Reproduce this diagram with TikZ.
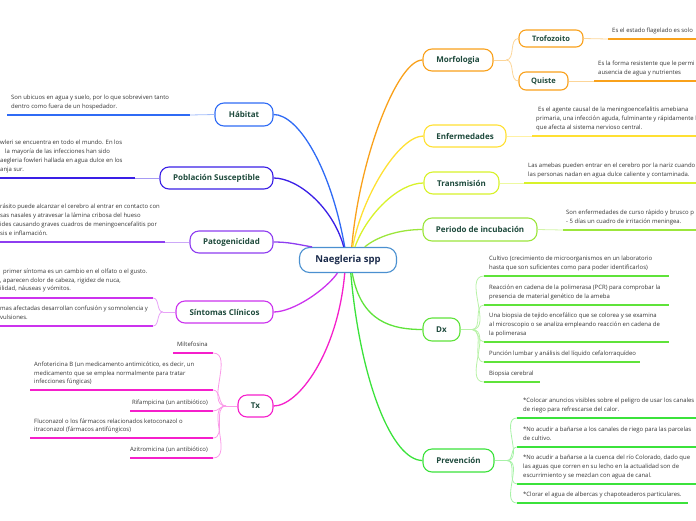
\documentclass[tikz,border=0pt]{standalone}
\usepackage{fontspec}
\setmainfont{Open Sans}

\definecolor{roottext}{HTML}{1B2B4B}
\definecolor{topictext}{HTML}{1E4A3C}
\definecolor{leaftext}{HTML}{333333}
\definecolor{croot}{HTML}{4A90D0}
\definecolor{chab}{HTML}{2F6BF5}
\definecolor{cpob}{HTML}{3A1FE6}
\definecolor{cpat}{HTML}{8E3DF0}
\definecolor{csin}{HTML}{CC33EE}
\definecolor{ctx}{HTML}{F51FCB}
\definecolor{cmor}{HTML}{F9A11B}
\definecolor{cenf}{HTML}{FFE033}
\definecolor{ctra}{HTML}{D8F22A}
\definecolor{cper}{HTML}{9CE63C}
\definecolor{cdx}{HTML}{5FE33A}
\definecolor{cpre}{HTML}{3BE23B}

\tikzset{
    rootbox/.style={draw=croot, fill=white, rounded corners=10pt, line width=1.1pt,
        minimum width=97pt, minimum height=25pt, inner sep=0pt, text=roottext,
        font=\fontsize{9.5}{11}\selectfont\bfseries},
    topic/.style={draw=#1, fill=white, rounded corners=9pt, line width=1.1pt,
        inner sep=0pt, text=topictext, font=\fontsize{8}{9}\selectfont\bfseries},
    subtopic/.style={topic=#1, rounded corners=7pt, font=\fontsize{7.5}{9}\selectfont\bfseries},
    leaf/.style={anchor=south west, inner sep=0pt, text depth=0pt, align=left,
        text=leaftext, font=\fontsize{5.95}{8.8}\selectfont},
    leafr/.style={leaf, anchor=south east, align=right},
    branch/.style={line width=1.3pt, draw=#1},
    bar/.style={line width=1.8pt, draw=#1},
    twig/.style={line width=0.8pt, draw=#1!45},
}

\begin{document}
\begin{tikzpicture}[x=1pt, y=1pt]
    \useasboundingbox (0,0) rectangle (696,-520);
    \clip (0,0) rectangle (696,-520);
    % Draw the central topic
    \node[rootbox] (root) at (348,-260) {Naegleria spp};
    % Draw the topics on the left
    \node[topic=chab, minimum width=58pt, minimum height=23pt] (hab) at (244,-114.5) {Hábitat};
    \node[topic=cpob, minimum width=113pt, minimum height=22pt] (pob) at (216.5,-178) {Población Susceptible};
    \node[topic=cpat, minimum width=83pt, minimum height=22pt] (pat) at (231.5,-242) {Patogenicidad};
    \node[topic=csin, minimum width=97pt, minimum height=22pt] (sin) at (224.5,-312) {Síntomas Clínicos};
    \node[topic=ctx, minimum width=35pt, minimum height=22pt] (tx) at (255.5,-406) {Tx};
    % Draw the topics on the right
    \node[topic=cmor, minimum width=70pt, minimum height=22pt] (mor) at (458,-60) {Morfologia};
    \node[subtopic=cmor, minimum width=64pt, minimum height=17pt] (tro) at (551,-38.5) {Trofozoito};
    \node[subtopic=cmor, minimum width=49pt, minimum height=18pt] (qui) at (543.5,-81) {Quiste};
    \node[topic=cenf, minimum width=82pt, minimum height=22pt] (enf) at (465,-136) {Enfermedades};
    \node[topic=ctra, minimum width=75pt, minimum height=22pt] (tra) at (461.5,-183) {Transmisión};
    \node[topic=cper, minimum width=114pt, minimum height=23pt] (per) at (480,-229.5) {Periodo de incubación};
    \node[topic=cdx, minimum width=37pt, minimum height=23pt] (dx) at (441.5,-329.5) {Dx};
    \node[topic=cpre, minimum width=71pt, minimum height=23pt] (pre) at (458.5,-460.5) {Prevención};
    % Draw the branches from the centre
    \draw[branch=cmor] (mor.west) to[out=180, in=85, out distance=25pt, in distance=90pt] (root.74);
    \draw[branch=cenf] (enf.west) to[out=180, in=80, out distance=25pt, in distance=50pt] (root.70);
    \draw[branch=ctra] (tra.west) to[out=180, in=70, out distance=25pt, in distance=35pt] (root.62);
    \draw[branch=cper] (per.west) to[out=180, in=40, out distance=25pt, in distance=15pt] (root.38);
    \draw[branch=cdx] (dx.west) to[out=180, in=280, out distance=30pt, in distance=50pt] (root.288);
    \draw[branch=cpre] (pre.west) to[out=180, in=275, out distance=30pt, in distance=110pt] (root.282);
    \draw[branch=chab] (hab.east) to[out=0, in=100, out distance=25pt, in distance=80pt] (root.104);
    \draw[branch=cpob] (pob.east) to[out=0, in=105, out distance=25pt, in distance=40pt] (root.108);
    \draw[branch=cpat] (pat.east) to[out=0, in=170, out distance=15pt, in distance=15pt] (root.160);
    \draw[branch=csin] (sin.east) to[out=0, in=235, out distance=20pt, in distance=20pt] (root.231);
    \draw[branch=ctx] (tx.east) to[out=0, in=265, out distance=25pt, in distance=80pt] (root.256);
    % Draw the Habitat leaf
    \coordinate (habA) at (7,-115);
    \coordinate (habB) at (190,-115);
    \draw[bar=chab] (habA) -- (habB);
    \draw[twig=chab] (habB) -- (hab.west);
    \node[leaf] (habT) at (11,-108.5) {Son ubicuos en agua y suelo, por lo que sobreviven tanto\\dentro como fuera de un hospedador.};
    % Draw the Poblacion leaf
    \coordinate (pobA) at (0,-178);
    \coordinate (pobB) at (135,-178);
    \draw[bar=cpob] (pobA) -- (pobB);
    \draw[twig=cpob] (pobB) -- (pob.west);
    \node[leaf] (pobT) at (0,-171.5) {wleri se encuentra en todo el mundo. En los\\\hspace{5pt}la mayoría de las infecciones han sido\\aegleria fowleri hallada en agua dulce en los\\anja sur.};
    % Draw the Patogenicidad leaf
    \coordinate (patA) at (0,-242);
    \coordinate (patB) at (165,-242);
    \draw[bar=cpat] (patA) -- (patB);
    \draw[twig=cpat] (patB) -- (pat.west);
    \node[leaf] (patT) at (0,-235.5) {rásito puede alcanzar el cerebro al entrar en contacto con\\sas nasales y atravesar la lámina cribosa del hueso\\ides causando graves cuadros de meningoencefalitis por\\sis e inflamación.};
    % Draw the Sintomas leaves
    \coordinate (sinJ) at (163,-312);
    \coordinate (sinA) at (0,-298);
    \coordinate (sinB) at (153,-298);
    \coordinate (sinC) at (0,-326);
    \coordinate (sinD) at (153,-326);
    \draw[twig=csin] (sin.west) -- (sinJ);
    \draw[bar=csin] (sinA) -- (sinB);
    \draw[bar=csin] (sinC) -- (sinD);
    \draw[twig=csin] (sinJ) to[out=180, in=0] (sinB);
    \draw[twig=csin] (sinJ) to[out=180, in=0] (sinD);
    \node[leaf] (sinT1) at (0,-291) {\hspace{3pt}primer síntoma es un cambio en el olfato o el gusto.\\, aparecen dolor de cabeza, rigidez de nuca,\\ilidad, náuseas y vómitos.};
    \node[leaf] (sinT2) at (0,-319.5) {mas afectadas desarrollan confusión y somnolencia y\\vulsiones.};
    % Draw the Tx leaves
    \coordinate (txJ) at (226,-406);
    \draw[twig=ctx] (tx.west) -- (txJ);
    \foreach \n/\xa/\ya in {1/173/353, 2/30/390, 3/130/411, 4/30/438, 5/130/458} {
        \coordinate (txA\n) at (\xa,-\ya);
        \coordinate (txB\n) at (213,-\ya);
        \draw[bar=ctx] (txA\n) -- (txB\n);
        \draw[twig=ctx] (txJ) to[out=180, in=0] (txB\n);
    }
    \node[leafr] (txT1) at (208,-346.5) {Miltefosina};
    \node[leaf] (txT2) at (34,-384) {Anfotericina B (un medicamento antimicótico, es decir, un\\medicamento que se emplea normalmente para tratar\\infecciones fúngicas)};
    \node[leafr] (txT3) at (208,-404.5) {Rifampicina (un antibiótico)};
    \node[leaf] (txT4) at (34,-432) {Fluconazol o los fármacos relacionados ketoconazol o\\itraconazol (fármacos antifúngicos)};
    \node[leafr] (txT5) at (208,-451.5) {Azitromicina (un antibiótico)};
    % Draw the Morfologia leaves
    \coordinate (morJ) at (506,-60);
    \draw[twig=cmor] (mor.east) -- (morJ);
    \draw[twig=cmor] (morJ) to[out=0, in=180] (tro.west);
    \draw[twig=cmor] (morJ) to[out=0, in=180] (qui.west);
    \coordinate (troA) at (608,-39);
    \coordinate (troB) at (700,-39);
    \draw[bar=cmor] (troA) -- (troB);
    \draw[twig=cmor] (tro.east) -- (troA);
    \node[leaf] (troT) at (612,-32.5) {Es el estado flagelado es solo};
    \coordinate (quiA) at (594,-81);
    \coordinate (quiB) at (700,-81);
    \draw[bar=cmor] (quiA) -- (quiB);
    \draw[twig=cmor] (qui.east) -- (quiA);
    \node[leaf] (quiT) at (598,-74.5) {Es la forma resistente que le permi\\ausencia de agua y nutrientes};
    % Draw the Enfermedades leaf
    \coordinate (enfA) at (532,-136);
    \coordinate (enfB) at (700,-136);
    \draw[bar=cenf] (enfA) -- (enfB);
    \draw[twig=cenf] (enf.east) -- (enfA);
    \node[leaf] (enfT) at (536,-129.5) {\hspace{2pt}Es el agente causal de la meningoencefalitis amebiana\\primaria, una infección aguda, fulminante y rápidamente l\\que afecta al sistema nervioso central.};
    % Draw the Transmision leaf
    \coordinate (traA) at (524,-183);
    \coordinate (traB) at (700,-183);
    \draw[bar=ctra] (traA) -- (traB);
    \draw[twig=ctra] (tra.east) -- (traA);
    \node[leaf] (traT) at (528,-176.5) {Las amebas pueden entrar en el cerebro por la nariz cuando\\las personas nadan en agua dulce caliente y contaminada.};
    % Draw the Periodo leaf
    \coordinate (perA) at (563,-230);
    \coordinate (perB) at (700,-230);
    \draw[bar=cper] (perA) -- (perB);
    \draw[twig=cper] (per.east) -- (perA);
    \node[leaf] (perT) at (566,-223.5) {Son enfermedades de curso rápido y brusco p\\- 5 días un cuadro de irritación meningea.};
    % Draw the Dx leaves
    \coordinate (dxJ) at (472,-329.5);
    \draw[twig=cdx] (dx.east) -- (dxJ);
    \foreach \n/\xb/\ya in {1/669/276, 2/669/305, 3/669/342, 4/640/362, 5/540/382} {
        \coordinate (dxA\n) at (484,-\ya);
        \coordinate (dxB\n) at (\xb,-\ya);
        \draw[bar=cdx] (dxA\n) -- (dxB\n);
        \draw[twig=cdx] (dxJ) to[out=0, in=180] (dxA\n);
    }
    \node[leaf] (dxT1) at (489,-269.5) {Cultivo (crecimiento de microorganismos en un laboratorio\\hasta que son suficientes como para poder identificarlos)};
    \node[leaf] (dxT2) at (489,-298.5) {Reacción en cadena de la polimerasa (PCR) para comprobar la\\presencia de material genético de la ameba};
    \node[leaf] (dxT3) at (489,-335.5) {Una biopsia de tejido encefálico que se colorea y se examina\\al microscopio o se analiza empleando reacción en cadena de\\la polimerasa};
    \node[leaf] (dxT4) at (489,-355.5) {Punción lumbar y análisis del líquido cefalorraquídeo};
    \node[leaf] (dxT5) at (489,-375.5) {Biopsia cerebral};
    % Draw the Prevencion leaves
    \coordinate (preJ) at (507,-460.5);
    \draw[twig=cpre] (pre.east) -- (preJ);
    \foreach \n/\xb/\ya in {1/700/418, 2/700/447, 3/700/484, 4/688/503} {
        \coordinate (preA\n) at (517,-\ya);
        \coordinate (preB\n) at (\xb,-\ya);
        \draw[bar=cpre] (preA\n) -- (preB\n);
        \draw[twig=cpre] (preJ) to[out=0, in=180] (preA\n);
    }
    \node[leaf] (preT1) at (523,-411.5) {*Colocar anuncios visibles sobre el peligro de usar los canales\\de riego para refrescarse del calor.};
    \node[leaf] (preT2) at (523,-440.5) {*No acudir a bañarse a los canales de riego para las parcelas\\de cultivo.};
    \node[leaf] (preT3) at (523,-477.5) {*No acudir a bañarse a la cuenca del río Colorado, dado que\\las aguas que corren en su lecho en la actualidad son de\\escurrimiento y se mezclan con agua de canal.};
    \node[leaf] (preT4) at (523,-496.5) {*Clorar el agua de albercas y chapoteaderos particulares.};
\end{tikzpicture}
\end{document}
